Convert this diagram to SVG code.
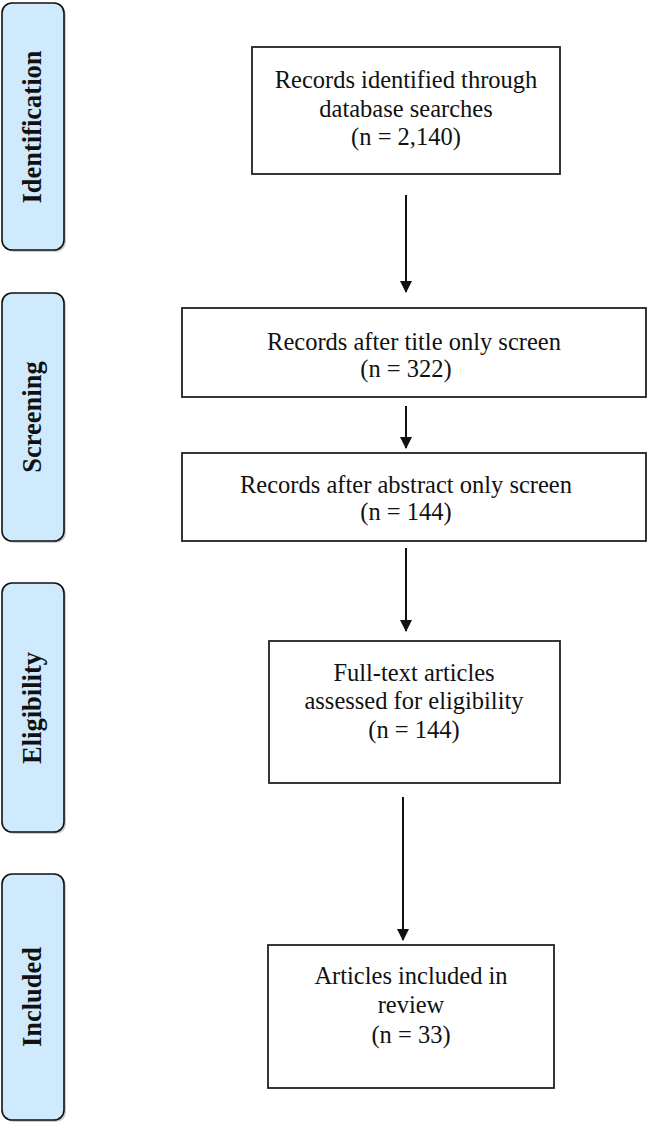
<svg xmlns="http://www.w3.org/2000/svg" width="648" height="1124" viewBox="0 0 648 1124">
<style>
.tab{fill:#cfeafd;stroke:#111;stroke-width:1.6}
.sh{fill:#9a9a9a;opacity:0.5}
.tl{font-family:"Liberation Serif",serif;font-weight:bold;font-size:26.5px;fill:#111;text-anchor:middle}
.box{fill:#fff;stroke:#222;stroke-width:1.8}
.bt{font-family:"Liberation Serif",serif;font-size:24.5px;fill:#111;text-anchor:middle}
.ln{stroke:#111;stroke-width:2;fill:none}
</style>
<defs>
<marker id="ah" markerWidth="12" markerHeight="12" refX="11" refY="6" orient="auto" markerUnits="userSpaceOnUse">
<path d="M0,0 L12,6 L0,12 Z" fill="#111"/>
</marker>
</defs>
<g id="tab-identification">
<rect class="sh" x="4" y="5" width="62" height="247" rx="10"/>
<rect class="tab" x="2" y="3" width="62" height="247" rx="10"/>
<text class="tl" transform="translate(41,127) rotate(-90)">Identification</text>
</g>
<g id="tab-screening">
<rect class="sh" x="4" y="295" width="62" height="248" rx="10"/>
<rect class="tab" x="2" y="293" width="62" height="248" rx="10"/>
<text class="tl" transform="translate(41,417) rotate(-90)">Screening</text>
</g>
<g id="tab-eligibility">
<rect class="sh" x="4" y="585" width="62" height="249" rx="10"/>
<rect class="tab" x="2" y="583" width="62" height="249" rx="10"/>
<text class="tl" transform="translate(41,708) rotate(-90)">Eligibility</text>
</g>
<g id="tab-included">
<rect class="sh" x="4" y="876" width="62" height="246" rx="10"/>
<rect class="tab" x="2" y="874" width="62" height="246" rx="10"/>
<text class="tl" transform="translate(41,997) rotate(-90)">Included</text>
</g>
<g id="box-identified">
<rect class="box" x="252" y="47" width="308" height="127"/>
<text class="bt" x="406" y="88">Records identified through</text>
<text class="bt" x="406" y="117">database searches</text>
<text class="bt" x="406" y="145">(n = 2,140)</text>
</g>
<g id="box-title">
<rect class="box" x="182" y="308" width="464" height="89"/>
<text class="bt" x="414" y="350">Records after title only screen</text>
<text class="bt" x="406" y="377">(n = 322)</text>
</g>
<g id="box-abstract">
<rect class="box" x="182" y="453" width="464" height="88"/>
<text class="bt" x="406" y="493">Records after abstract only screen</text>
<text class="bt" x="406" y="520">(n = 144)</text>
</g>
<g id="box-fulltext">
<rect class="box" x="269" y="641" width="291" height="142"/>
<text class="bt" x="414" y="681">Full-text articles</text>
<text class="bt" x="414" y="709">assessed for eligibility</text>
<text class="bt" x="414" y="738">(n = 144)</text>
</g>
<g id="box-included">
<rect class="box" x="268" y="945" width="286" height="143"/>
<text class="bt" x="411" y="984">Articles included in</text>
<text class="bt" x="411" y="1013">review</text>
<text class="bt" x="411" y="1043">(n = 33)</text>
</g>
<g id="connectors">
<line class="ln" x1="406" y1="195" x2="406" y2="292" marker-end="url(#ah)"/>
<line class="ln" x1="406" y1="406" x2="406" y2="448" marker-end="url(#ah)"/>
<line class="ln" x1="406" y1="548" x2="406" y2="631" marker-end="url(#ah)"/>
<line class="ln" x1="403" y1="797" x2="403" y2="940" marker-end="url(#ah)"/>
</g>
</svg>
